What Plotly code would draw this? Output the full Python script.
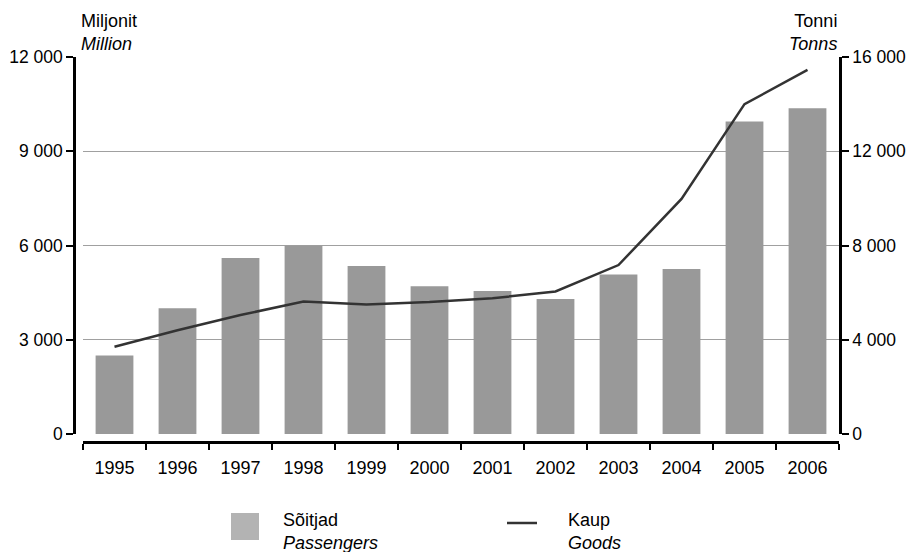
import plotly.graph_objects as go

# Data
years = ['1995', '1996', '1997', '1998', '1999', '2000',
         '2001', '2002', '2003', '2004', '2005', '2006']
passengers = [2500, 4000, 5600, 6000, 5350, 4700, 4550, 4300, 5080, 5250, 9950, 10370]
goods = [3700, 4400, 5050, 5620, 5500, 5600, 5760, 6050, 7170, 9980, 14000, 15450]

FONT = 'Liberation Sans, Arial, sans-serif'
BAR_COLOR = '#999999'
LINE_COLOR = '#333333'

# page geometry (the page body adds an 8px offset, so everything is shifted back by 8)
OFF = 8
W, H = 914, 552
L, T = 74 - OFF, 57 - OFF
R, B = W - (839 - OFF), H - (442 - OFF)
PW, PH = W - L - R, H - T - B


def px_x(p):
    return (p - OFF - L) / PW


def px_y(p):
    return (H - B - (p - OFF)) / PH


fig = go.Figure()

fig.add_trace(go.Bar(x=years, y=passengers, marker=dict(color=BAR_COLOR, line_width=0),
                     width=0.6, name='Sõitjad', yaxis='y'))
fig.add_trace(go.Scatter(x=years, y=goods, mode='lines', line=dict(color=LINE_COLOR, width=2.5),
                         name='Kaup', yaxis='y2'))

# Axis unit labels
fig.add_annotation(x=px_x(79), y=1, xref='paper', yref='paper', xanchor='left', yanchor='bottom',
                   yshift=1, align='left', showarrow=False,
                   text='Miljonit<br><i>Million</i>', font=dict(size=18, color='black'))
fig.add_annotation(x=1, y=1, xref='paper', yref='paper', xanchor='right', yanchor='bottom',
                   yshift=1, align='right', showarrow=False,
                   text='Tonni<br><i>Tonns</i>', font=dict(size=18, color='black'))

# Manual legend
fig.add_shape(type='rect', xref='paper', yref='paper', x0=px_x(231), x1=px_x(259),
              y0=px_y(540), y1=px_y(513), fillcolor='#b3b3b3', line_width=0)
fig.add_annotation(x=px_x(281), y=px_y(508), xref='paper', yref='paper', xanchor='left', yanchor='top',
                   align='left', showarrow=False, text='Sõitjad<br><i>Passengers</i>',
                   font=dict(size=18, color='black'))
fig.add_shape(type='line', xref='paper', yref='paper', x0=px_x(507), x1=px_x(537),
              y0=px_y(523), y1=px_y(523), line=dict(color=LINE_COLOR, width=2.5))
fig.add_annotation(x=px_x(566), y=px_y(508), xref='paper', yref='paper', xanchor='left', yanchor='top',
                   align='left', showarrow=False, text='Kaup<br><i>Goods</i>',
                   font=dict(size=18, color='black'))

fig.update_layout(
    width=W, height=H,
    margin=dict(l=L, r=R, t=T, b=B, pad=0),
    plot_bgcolor='white', paper_bgcolor='white',
    font=dict(family=FONT, size=18, color='black'),
    separators='. ',
    showlegend=False,
    bargap=0.4,
    xaxis=dict(type='category', domain=[9 / PW, 1], anchor='free', position=0, automargin=False,
               showline=True, linecolor='black', linewidth=2.5,
               ticks='outside', tickson='boundaries', ticklen=6, tickwidth=1.5, tickcolor='black',
               ticklabelstandoff=9, showgrid=False),
    yaxis=dict(range=[0, 12000], tickvals=[0, 3000, 6000, 9000, 12000], tickformat=',d',
               tickfont=dict(size=17.5),
               domain=[8 / PH, 1], anchor='free', position=0, automargin=False,
               showline=True, linecolor='black', linewidth=2.5,
               ticks='outside', ticklen=7, tickwidth=1.5, tickcolor='black',
               showgrid=True, gridcolor='#a0a0a0', gridwidth=1, zeroline=False),
    yaxis2=dict(range=[0, 16000], tickvals=[0, 4000, 8000, 12000, 16000], tickformat=',d',
                tickfont=dict(size=17.5),
                overlaying='y', side='right', anchor='x', automargin=False,
                showline=True, linecolor='black', linewidth=2.5,
                ticks='outside', ticklen=7, tickwidth=1.5, tickcolor='black',
                showgrid=False, zeroline=False),
)

fig.write_html('out.html')
